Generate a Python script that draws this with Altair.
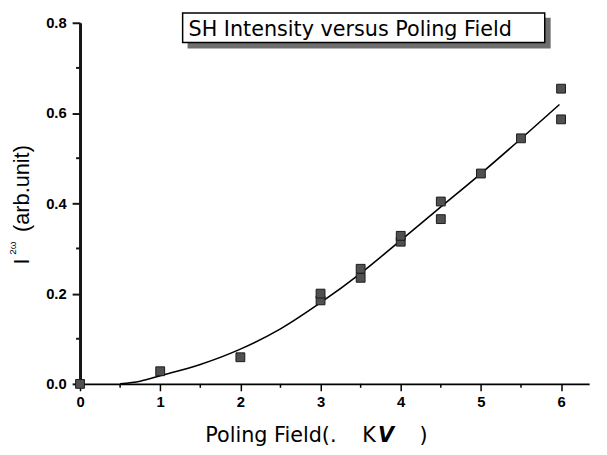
import altair as alt
import pandas as pd

# measured points
pt_x = [0, 1, 2, 3, 3, 3.5, 3.5, 4, 4, 4.5, 4.5, 5, 5.5, 6, 6]
pt_y = [0.0, 0.028, 0.059, 0.185, 0.200, 0.235, 0.255, 0.315, 0.328,
        0.365, 0.404, 0.466, 0.544, 0.586, 0.654]

# fitted curve
fit_x = [0.5, 0.75, 1, 1.5, 2, 2.5, 3, 3.5, 4, 4.5, 5, 5.5, 5.98]
fit_y = [0.0, 0.006, 0.018, 0.043, 0.077, 0.122, 0.18, 0.245, 0.318,
         0.392, 0.466, 0.543, 0.619]

x_major = [0, 1, 2, 3, 4, 5, 6]
x_minor = [0.5, 1.5, 2.5, 3.5, 4.5, 5.5]
y_major = [0, 0.2, 0.4, 0.6, 0.8]
y_minor = [0.1, 0.3, 0.5, 0.7]

chart_title = "SH Intensity versus Poling Field"

pts = pd.DataFrame({"x": pt_x, "y": pt_y})
fit = pd.DataFrame({"x": fit_x, "y": fit_y})
xmin_df = pd.DataFrame({"x": x_minor})
ymin_df = pd.DataFrame({"y": y_minor})
one = pd.DataFrame({"a": [0]})

tick_font = "Liberation Sans"
axis_col = "#151515"

x_axis = alt.Axis(
    values=x_major, format="d",
    tickSize=7, labelPadding=4, labelOverlap=False, labelFlush=False,
    grid=False, title=None,
    domainColor="black", domainWidth=2, tickColor="black", tickWidth=1.5,
    labelFont=tick_font, labelFontSize=15, labelFontWeight="bold", labelColor="black",
)
y_axis = alt.Axis(
    values=y_major, format=".1f",
    tickSize=8, labelPadding=6, labelOverlap=False, labelFlush=False,
    grid=False, title=None,
    domainColor=axis_col, domainWidth=3, tickColor=axis_col, tickWidth=2,
    labelFont=tick_font, labelFontSize=15, labelFontWeight="bold", labelColor="black",
)

xs = alt.Scale(domain=[0, 6.35], nice=False, zero=False)
ys = alt.Scale(domain=[0, 0.8], nice=False)

line = alt.Chart(fit).mark_line(color="black", strokeWidth=1.6, interpolate="monotone").encode(
    x=alt.X("x:Q", scale=xs, axis=x_axis),
    y=alt.Y("y:Q", scale=ys, axis=y_axis),
)

# minor ticks
y_minor_ticks = alt.Chart(ymin_df).mark_rule(color=axis_col, strokeWidth=2).encode(
    y=alt.Y("y:Q", scale=ys, axis=y_axis), x=alt.value(-4), x2=alt.value(0))
x_minor_ticks = alt.Chart(xmin_df).mark_rule(color="black", strokeWidth=1.5).encode(
    x=alt.X("x:Q", scale=xs, axis=x_axis), y=alt.value(366), y2=alt.value(370))

points = alt.Chart(pts).mark_square(size=80, fill="#505050", stroke="#1a1a1a",
                                     strokeWidth=1, opacity=1).encode(
    x=alt.X("x:Q", scale=xs, axis=x_axis),
    y=alt.Y("y:Q", scale=ys, axis=y_axis),
)

base = alt.Chart(one)
shadow = base.mark_rect(fill="#6e6e6e").encode(
    x=alt.value(109), x2=alt.value(477), y=alt.value(-5), y2=alt.value(26))
box = base.mark_rect(fill="white", stroke="black", strokeWidth=1.5).encode(
    x=alt.value(104), x2=alt.value(471), y=alt.value(-10), y2=alt.value(20))
title_txt = base.mark_text(align="left", baseline="alphabetic", font="DejaVu Sans",
                           fontSize=21, color="black").encode(
    x=alt.value(110), y=alt.value(13), text=alt.value(chart_title))

# y-axis title pieces: I^{2ω} (arb.unit)
yt_I = base.mark_text(angle=270, align="left", baseline="alphabetic",
                      font="Liberation Sans", fontSize=22, color="black").encode(
    x=alt.value(-52), y=alt.value(245), text=alt.value("I"))
yt_sup = base.mark_text(angle=270, align="left", baseline="alphabetic",
                        font="Liberation Sans", fontSize=10, color="black").encode(
    x=alt.value(-65), y=alt.value(235), text=alt.value("2ω"))
yt_rest = base.mark_text(angle=270, align="center", baseline="alphabetic",
                         font="Liberation Sans", fontSize=22, color="black").encode(
    x=alt.value(-52), y=alt.value(168), text=alt.value("(arb.unit)"))

# x-axis title pieces: Poling Field( KV )
xt1 = base.mark_text(align="left", baseline="alphabetic", font="DejaVu Sans",
                     fontSize=21, color="black").encode(
    x=alt.value(127), y=alt.value(425), text=alt.value("Poling Field(."))
xt2 = base.mark_text(align="left", baseline="alphabetic", font="DejaVu Sans",
                     fontSize=21, color="black").encode(
    x=alt.value(286), y=alt.value(425), text=alt.value("K"))
xt3 = base.mark_text(align="left", baseline="alphabetic", font="DejaVu Sans",
                     fontSize=21, fontStyle="italic", fontWeight="bold", color="black").encode(
    x=alt.value(302), y=alt.value(425), text=alt.value("V"))
xt4 = base.mark_text(align="left", baseline="alphabetic", font="DejaVu Sans",
                     fontSize=21, color="black").encode(
    x=alt.value(344), y=alt.value(425), text=alt.value(")"))

chart = alt.layer(
    line, y_minor_ticks, x_minor_ticks, points,
    shadow, box, title_txt, yt_I, yt_sup, yt_rest, xt1, xt2, xt3, xt4
).properties(
    width=516, height=366,
    autosize=alt.AutoSizeParams(type="none"),
    padding={"left": 73, "top": 12, "right": 10, "bottom": 61},
    background="white",
).configure_view(stroke=None)

chart.save("out.html", embed_options={"renderer": "svg", "actions": False})
